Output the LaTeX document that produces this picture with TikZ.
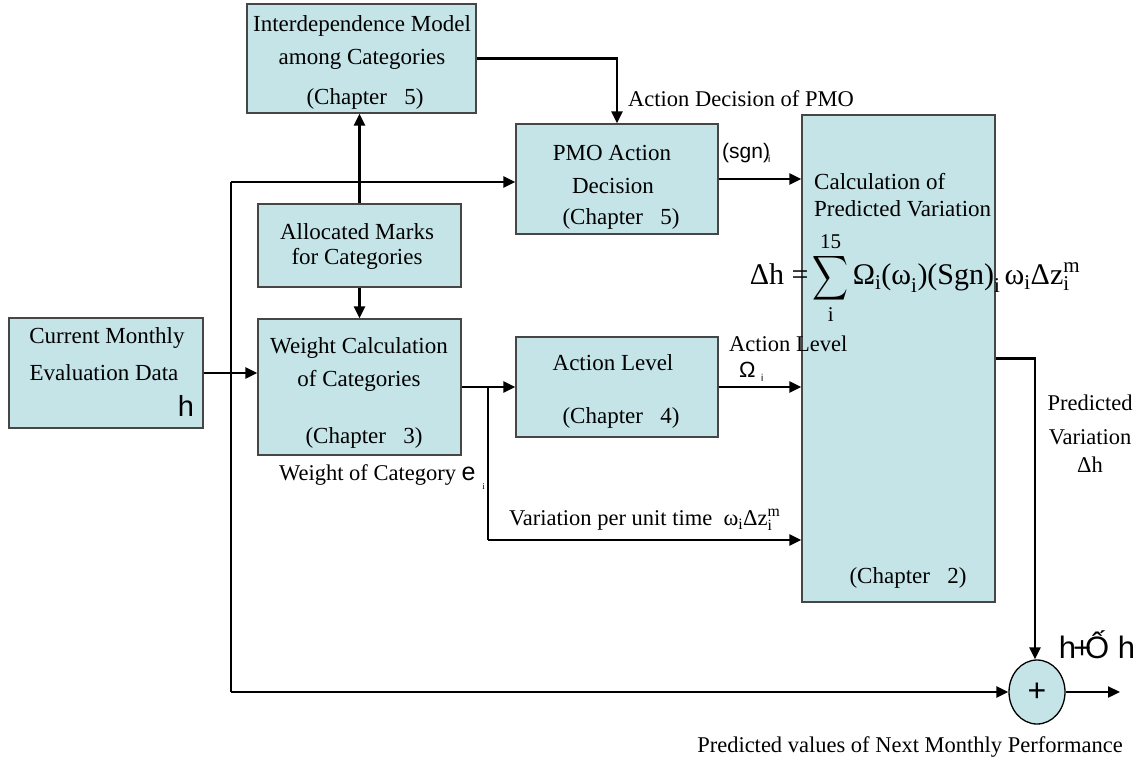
\documentclass[tikz,border=0pt]{standalone}
\usepackage{amsmath}
\usepackage{graphicx}
\usepackage{fontspec}
\setmainfont{Liberation Serif}
\newfontfamily\sansf{Liberation Sans}
\usetikzlibrary{arrows.meta,shapes.geometric}
\definecolor{boxfill}{RGB}{196,228,232}
\definecolor{boxline}{RGB}{70,70,70}
\tikzset{
  box/.style={draw=boxline,line width=1.3pt,fill=boxfill,inner sep=0pt},
  txt/.style={inner sep=0pt,font=\fontsize{23}{27}\selectfont},
  lab/.style={inner sep=0pt,font=\fontsize{22.5}{26}\selectfont},
  arr/.style={line width=2.3pt,-{Triangle[length=12pt,width=11pt]}},
  ln/.style={line width=2.3pt},
}
\begin{document}
\begin{tikzpicture}[x=1pt,y=-1pt]
\useasboundingbox (0,0) rectangle (1140,763);
% boxes
\node[box,minimum width=229pt,minimum height=109pt] (inter) at (361.5,58.5) {};
\node[box,minimum width=202pt,minimum height=110pt] (pmo) at (617,179) {};
\node[box,minimum width=193pt,minimum height=487pt] (calc) at (898.5,358.5) {};
\node[box,minimum width=203pt,minimum height=83pt] (alloc) at (359.5,245.5) {};
\node[box,minimum width=203pt,minimum height=136pt] (wt) at (359.5,387) {};
\node[box,minimum width=194pt,minimum height=110pt] (cur) at (106,373) {};
\node[box,minimum width=202pt,minimum height=100pt] (act) at (617,387) {};
\node[draw=black,line width=1.3pt,fill=boxfill,ellipse,minimum width=56pt,minimum height=64pt,inner sep=0pt] (plus) at (1037,692) {};
\node[inner sep=0pt,font=\sansf\fontsize{32}{32}\selectfont] (plustxt) at (plus.center) {+};
% box texts
\node[txt] (t1) at (362,26) {Interdependence Model};
\node[txt] (t2) at (362,59) {among Categories};
\node[txt] (t3) at (365,99) {(Chapter\ \ \ 5)};
\node[txt] (t4) at (612,153) {PMO Action};
\node[txt] (t5) at (613,186) {Decision};
\node[txt] (t6) at (621,219) {(Chapter\ \ \ 5)};
\node[txt,anchor=west] (t7) at (814,182) {Calculation of};
\node[txt,anchor=west] (t8) at (814,209) {Predicted Variation};
\node[txt] (t9) at (908,578) {(Chapter\ \ \ 2)};
\node[txt] (t10) at (357,232) {Allocated Marks};
\node[txt] (t11) at (357,259) {for Categories};
\node[txt] (t12) at (359,348) {Weight Calculation};
\node[txt] (t13) at (359,381) {of Categories};
\node[txt] (t14) at (364,438) {(Chapter\ \ \ 3)};
\node[txt] (t15) at (107,338) {Current Monthly};
\node[txt] (t16) at (104,373) {Evaluation Data};
\node[inner sep=0pt,font=\sansf\fontsize{29}{29}\selectfont] (t17) at (186,406) {h};
\node[txt] (t18) at (613,363) {Action Level};
\node[txt] (t19) at (621,418) {(Chapter\ \ \ 4)};
% equation
\node[inner sep=0pt,font=\fontsize{30}{34}\selectfont] (eq) at (915,278)
 {$\text{Δh =}\mathop{\vcenter{\hbox{\scalebox{1.0}[1.25]{$\displaystyle\sum$}}}}\limits_{\text{i}}^{\text{15}}\text{Ω}_{\text{i}}\text{(ω}_{\text{i}}\text{)(Sgn)}_{\text{i}}\,\text{ω}_{\text{i}}\text{Δz}_{\text{i}}^{\text{m}}$};
% connectors
\coordinate (vtop) at (231,182);
\coordinate (vbot) at (231,692);
\draw[line width=1.4pt] (vtop) -- (vbot);
\draw[arr] (vtop) -- (vtop -| pmo.west);
\draw[arr] (vbot) -- (plus.west);
\draw[arr] (cur.east) -- (cur.east -| wt.west);
\draw[arr] (alloc.north) -- (alloc.north |- inter.south);
\draw[arr] (alloc.south) -- (alloc.south |- wt.north);
\draw[arr] (inter.east) -| (pmo.north);
\draw[arr] (pmo.east) -- (pmo.east -| calc.west);
\coordinate (br) at (488,387);
\coordinate (br2) at (488,540);
\draw[ln] (br -| wt.east) -- (br);
\draw[arr] (br) -- (br -| act.west);
\draw[line width=1.4pt] (br) -- (br2);
\draw[arr] (br2) -- (br2 -| calc.west);
\draw[arr] (act.east) -- (act.east -| calc.west);
\coordinate (cbend) at (1035,358.5);
\draw[arr] (calc.east) -- (cbend) -- (cbend |- plus.north);
\coordinate (out) at (1120,692);
\draw[arr] (plus.east) -- (out);
% labels
\node[lab,anchor=west] (l1) at (628,99) {Action Decision of PMO};
\node[inner sep=0pt,anchor=west,font=\sansf\fontsize{21}{22}\selectfont] (l2) at (722,153) {(sgn)\raisebox{-4pt}{\kern-2pt\fontsize{10}{10}\selectfont i}};
\node[lab,anchor=west] (l3) at (729,344) {Action Level};
\node[inner sep=0pt,anchor=west,font=\sansf\fontsize{22}{22}\selectfont] (l4) at (739,372) {Ω\raisebox{-4pt}{\fontsize{10}{10}\selectfont\ \ i}};
\node[lab,anchor=west] (l5) at (279,477) {Weight of Category {\sansf\fontsize{25}{25}\selectfont e}\raisebox{-9pt}{\fontsize{9}{9}\selectfont\ \ \ i}};
\node[lab,anchor=west] (l6) at (509,520) {Variation per unit time\ \ $\text{ω}_{\text{i}}\text{Δz}_{\text{i}}^{\text{m}}$};
\node[lab] (l7) at (1090,403) {Predicted};
\node[lab] (l8) at (1090,437) {Variation};
\node[lab] (l9) at (1090,465) {Δh};
\node[inner sep=0pt,font=\sansf\fontsize{31}{31}\selectfont] (l10) at (1097,645) {h\kern-3pt+\kern-6ptỐ h};
\node[lab] (l11) at (910,747) {Predicted values of Next Monthly Performance};
\end{tikzpicture}
\end{document}
